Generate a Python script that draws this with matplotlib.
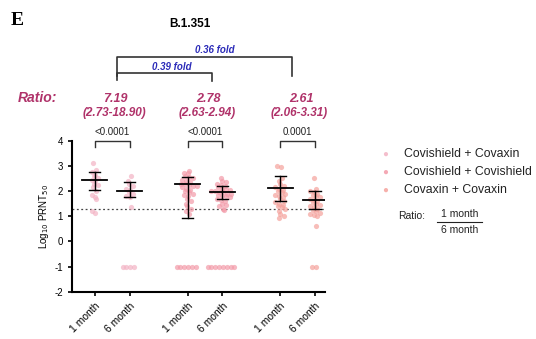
import numpy as np
import matplotlib.pyplot as plt
from matplotlib.transforms import blended_transform_factory

plt.rcParams['font.family'] = ['Liberation Sans', 'DejaVu Sans']
plt.rcParams['axes.unicode_minus'] = False

# data
tick_labels = ["1 month", "6 month", "1 month", "6 month", "1 month", "6 month"]
groups = ["Covishield + Covaxin", "Covishield + Covishield", "Covaxin + Covaxin"]
g1_1m = [3.1, 2.85, 2.75, 2.65, 2.6, 2.5, 2.45, 2.4, 2.3, 2.25, 2.15, 2.0, 1.85, 1.75, 1.7, 1.2, 1.15]
g1_6m = [2.6, 2.4, 2.3, 2.2, 2.1, 2.05, 1.95, 1.9, 1.8, 1.75, 1.35, -1, -1, -1, -1]
g2_1m = [2.8, 2.7, 2.7, 2.6, 2.55, 2.5, 2.45, 2.4, 2.35, 2.3, 2.3, 2.25, 2.2, 2.2, 2.15, 2.1,
         2.05, 2.0, 1.95, 1.9, 1.85, 1.8, 1.7, 1.6, 1.5, 1.4, 1.3, 1.2, 1.1,
         -1, -1, -1, -1, -1, -1]
g2_6m = [2.5, 2.4, 2.35, 2.3, 2.25, 2.2, 2.15, 2.1, 2.1, 2.05, 2.0, 2.0, 1.95, 1.95, 1.9, 1.9,
         1.85, 1.8, 1.8, 1.75, 1.7, 1.65, 1.6, 1.5, 1.45, 1.4, 1.3, 1.25,
         -1, -1, -1, -1, -1, -1, -1, -1]
g3_1m = [3.0, 2.95, 2.5, 2.4, 2.3, 2.2, 2.15, 2.1, 2.05, 2.0, 1.95, 1.9, 1.85, 1.8, 1.75, 1.7,
         1.6, 1.55, 1.5, 1.45, 1.4, 1.35, 1.3, 1.2, 1.1, 1.0, 0.95]
g3_6m = [2.5, 2.1, 2.0, 1.95, 1.9, 1.85, 1.8, 1.75, 1.7, 1.65, 1.6, 1.55, 1.5, 1.45, 1.4, 1.35,
         1.3, 1.25, 1.2, 1.15, 1.1, 1.05, 1.0, 0.6, -1, -1]
means = [2.44, 2.02, 2.27, 1.95, 2.11, 1.65]
err_lo = [2.05, 1.75, 0.92, 1.7, 1.6, 1.3]
err_hi = [2.77, 2.35, 2.55, 2.2, 2.6, 2.02]
ratios = ["7.19", "2.78", "2.61"]
ratio_ci = ["(2.73-18.90)", "(2.63-2.94)", "(2.06-3.31)"]
pvals = ["<0.0001", "<0.0001", "0.0001"]
folds = ["0.39 fold", "0.36 fold"]
cutoff = 1.3

series = [g1_1m, g1_6m, g2_1m, g2_6m, g3_1m, g3_6m]
xpos = [0, 1, 2.66, 3.66, 5.32, 6.32]
colors = ["#f3b3c4", "#f39aa8", "#f5a29c"]
pink = "#b0336a"
blue = "#2a2ab8"


def swarm(vals, step=0.11, maxw=0.4):
    # spread points sideways inside small value bins, alternating rows
    vals = np.array(vals)
    off = np.zeros(len(vals))
    bins = np.round(vals / 0.15)
    for j, b in enumerate(np.unique(bins)):
        idx = np.where(bins == b)[0]
        k = len(idx)
        o = (np.arange(k) - (k - 1) / 2) * step + (0.04 if j % 2 else -0.04)
        if k > 1 and (k - 1) * step > 2 * maxw:
            o = np.linspace(-maxw, maxw, k)
        off[idx] = np.clip(o, -maxw, maxw)
    return off


fig = plt.figure(figsize=(5.36, 3.39), dpi=100)
ax = fig.add_axes([0.134, 0.139, 0.472, 0.446])

for i in range(6):
    c = colors[i // 2]
    v = series[i]
    ax.scatter(xpos[i] + swarm(v), v, s=14, color=c, alpha=0.7, lw=0, zorder=2, clip_on=False)
    ax.plot([xpos[i] - 0.36, xpos[i] + 0.36], [means[i]] * 2, color="k", lw=1.3, zorder=3)
    ax.plot([xpos[i]] * 2, [err_lo[i], err_hi[i]], color="k", lw=1.0, zorder=3)
    for e in (err_lo[i], err_hi[i]):
        ax.plot([xpos[i] - 0.16, xpos[i] + 0.16], [e, e], color="k", lw=1.0, zorder=3)

ax.axhline(cutoff, color="#444444", lw=0.9, ls=(0, (1.5, 2)), zorder=1)

ax.set_xlim(-0.66, 6.6)
ax.set_ylim(-2, 4)
ax.set_yticks(range(-2, 5))
ax.set_xticks(xpos)
ax.set_xticklabels(tick_labels, rotation=45, ha="right", rotation_mode="anchor", fontsize=7.5)
ax.tick_params(axis="y", labelsize=7, width=1.2, length=3)
ax.tick_params(axis="x", width=1.2, length=3)
for s in ["top", "right"]:
    ax.spines[s].set_visible(False)
for s in ["left", "bottom"]:
    ax.spines[s].set_linewidth(1.5)
ax.set_ylabel("Log$_{10}$ PRNT$_{50}$", fontsize=7, labelpad=2)

# p-value brackets above each group
for g in range(3):
    a, b = xpos[2 * g], xpos[2 * g + 1]
    ax.plot([a, a, b, b], [3.75, 4.0, 4.0, 3.75], color="#333333", lw=1.0, clip_on=False)
    ax.text((a + b) / 2, 4.15, pvals[g], ha="center", va="bottom", fontsize=7, color="#222222")

# ratio labels
tr = blended_transform_factory(ax.transData, fig.transFigure)
fig.text(0.033, 0.7, "Ratio:", color=pink, fontsize=10, fontweight="bold", style="italic")
for g in range(3):
    mid = (xpos[2 * g] + xpos[2 * g + 1]) / 2
    ax.text(mid + 0.1, 0.7, ratios[g], transform=tr, ha="center", color=pink,
            fontsize=9, fontweight="bold", style="italic")
    ax.text(mid + 0.05, 0.658, ratio_ci[g], transform=tr, ha="center", color=pink,
            fontsize=8.5, fontweight="bold", style="italic")

# fold brackets
bx = [0.63, 3.37, 5.66]
ax.plot([bx[0], bx[0], bx[2], bx[2]], [0.775, 0.832, 0.832, 0.775], transform=tr,
        color="#333333", lw=1.2, clip_on=False)
ax.plot([bx[0], bx[0], bx[1], bx[1]], [0.765, 0.785, 0.785, 0.762], transform=tr,
        color="#333333", lw=1.2, clip_on=False)
ax.text((bx[0] + bx[1]) / 2 + 0.2, 0.788, folds[0], transform=tr, ha="center", va="bottom",
        color=blue, fontsize=7, fontweight="bold", style="italic")
ax.text((bx[0] + bx[2]) / 2 + 0.3, 0.838, folds[1], transform=tr, ha="center", va="bottom",
        color=blue, fontsize=7, fontweight="bold", style="italic")

fig.text(0.355, 0.93, "B.1.351", ha="center", va="center", fontsize=8.5, fontweight="bold")
fig.text(0.02, 0.94, "E", ha="left", va="center", fontsize=14, fontweight="bold",
         family=["Liberation Serif", "DejaVu Serif"])

# legend
for k in range(3):
    y = 1 - (154 + 18 * k) / 339
    fig.text(0.718, y, "\u25cf", color=colors[k], alpha=0.85, fontsize=7, ha="center", va="center")
    fig.text(0.753, y, groups[k], fontsize=8.8, ha="left", va="center", color="#222222")
fig.text(0.742, 1 - 216 / 339, "Ratio:", fontsize=7.5, ha="left", va="center", color="#222222")
fig.text(0.857, 1 - 214 / 339, "1 month", fontsize=7.5, ha="center", va="center", color="#222222")
fig.text(0.857, 1 - 230 / 339, "6 month", fontsize=7.5, ha="center", va="center", color="#222222")
fig.add_artist(plt.Line2D([0.815, 0.899], [1 - 222 / 339] * 2, color="#222222", lw=0.8))

fig.savefig("out.png", dpi=100)
